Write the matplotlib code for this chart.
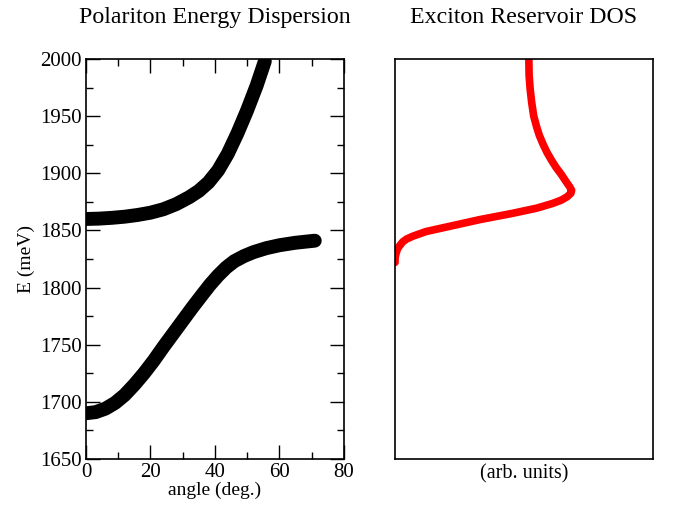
import numpy as np
import matplotlib.pyplot as plt
from matplotlib.ticker import MultipleLocator

plt.rcParams['font.family'] = ['Liberation Serif', 'DejaVu Serif']

# Rama superior del polariton (angulo en grados, energia en meV)
up_angle = [0, 4, 8, 12, 16, 20, 24, 28, 32, 35, 38, 41, 44, 47, 50, 53, 55.5]
up_energy = [1860, 1860.3, 1861, 1862, 1863.5, 1865.5, 1868.5, 1873, 1879, 1884.5, 1892, 1902.5,
             1917, 1935, 1955, 1977, 1998]

# Rama inferior del polariton
low_angle = [0, 3, 6, 9, 12, 15, 18, 21, 24, 27, 30, 33, 36, 38.5, 41, 43.5, 46, 49, 52, 56, 60, 65, 71]
low_energy = [1690, 1691, 1694, 1699, 1706, 1715, 1725, 1736, 1748, 1759.5, 1771, 1782.5, 1793.5,
              1802.5, 1810.5, 1817.5, 1823, 1827.5, 1831, 1834.5, 1837, 1839.2, 1841]

# Densidad de estados del reservorio de excitones (unidades arbitrarias)
dos_value = [0.0, 0.0, 0.004, 0.01, 0.019, 0.03, 0.045, 0.07, 0.12, 0.2, 0.33, 0.457, 0.55, 0.61,
             0.645, 0.668, 0.682, 0.685, 0.678, 0.664, 0.645, 0.625, 0.608, 0.59, 0.575, 0.56,
             0.55, 0.538, 0.53, 0.524, 0.52, 0.519]
dos_energy = [1822, 1826, 1830, 1834, 1837, 1840, 1842.5, 1845, 1849, 1853, 1859.5, 1865, 1869.5,
              1873.5, 1876.5, 1879.5, 1882.5, 1885, 1888, 1892.5, 1899, 1905, 1911, 1918, 1925,
              1933, 1940, 1950, 1962, 1974, 1986, 2001]

fig = plt.figure(figsize=(6.73, 5.08), dpi=100)
ax1 = fig.add_axes([0.1278, 0.0965, 0.383, 0.7874])
ax2 = fig.add_axes([0.587, 0.0965, 0.383, 0.7874])

for x, y in [(up_angle, up_energy), (low_angle, low_energy)]:
    ax1.plot(x, y, '-', color='black', lw=10, solid_capstyle='round', solid_joinstyle='round', zorder=2)

ax1.set_xlim(0, 80)
ax1.set_ylim(1650, 2000)
ax1.xaxis.set_major_locator(MultipleLocator(20))
ax1.xaxis.set_minor_locator(MultipleLocator(10))
ax1.yaxis.set_major_locator(MultipleLocator(50))
ax1.yaxis.set_minor_locator(MultipleLocator(25))
ax1.tick_params(which='both', direction='in', top=True, right=True, labelsize=15, width=1)
ax1.tick_params(which='major', length=10, pad=3)
ax1.tick_params(which='minor', length=5)
ax1.set_xlabel('angle (deg.)', fontsize=14, labelpad=0)
ax1.set_ylabel('E (meV)', fontsize=14)
ax1.set_title('Polariton Energy Dispersion', fontsize=17.2, pad=26)

ax2.plot(dos_value, dos_energy, '-', color='red', lw=5.5, solid_capstyle='round', solid_joinstyle='round')
ax2.set_xlim(0, 1)
ax2.set_ylim(1650, 2000)
ax2.set_xticks([])
ax2.set_yticks([])
ax2.set_xlabel('(arb. units)', fontsize=14.5, labelpad=4)
ax2.set_title('Exciton Reservoir DOS', fontsize=17.2, pad=26)

for ax in (ax1, ax2):
    for s in ax.spines.values():
        s.set_linewidth(1.2)

fig.savefig('out.png', dpi=100)
